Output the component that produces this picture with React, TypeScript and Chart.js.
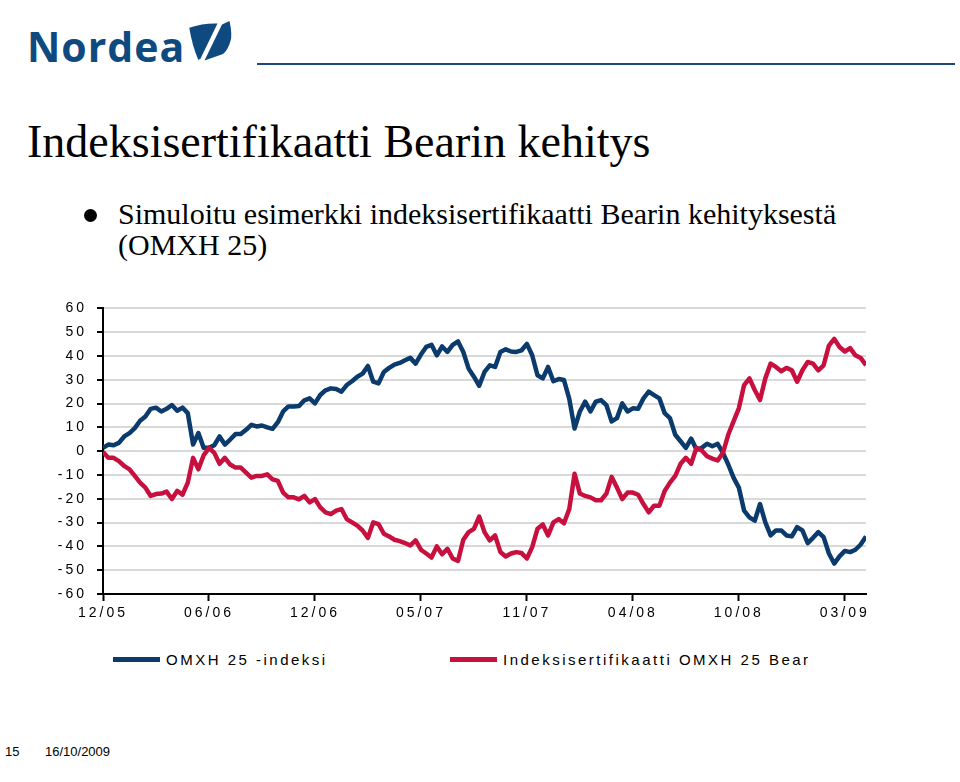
import React, { useEffect, useRef } from 'react';
import { Chart, registerables } from 'chart.js';

Chart.register(...registerables);

// ---- data ----
const tickLabels = ['12/05', '06/06', '12/06', '05/07', '11/07', '04/08', '10/08', '03/09'];
const pointsPerTick = 20;

const seriesNames = ['OMXH 25 -indeksi', 'Indeksisertifikaatti OMXH 25 Bear'];
const seriesColors = ['#0b3a6c', '#c8103f'];

const omxh = [
  1.4, 2.8, 2.5, 3.5, 6.2, 7.6, 9.7, 12.8, 14.6, 17.8,
  18.3, 16.7, 17.8, 19.4, 17, 18.3, 16, 2.8, 7.6, 1.4,
  1.4, 2.5, 6.2, 2.8, 4.9, 7.2, 7.2, 9, 11.1, 10.4,
  10.8, 10, 9.4, 12.2, 16.7, 18.8, 18.8, 19, 21.4, 22.2,
  20.1, 23.6, 25.6, 26.4, 26.1, 25, 27.8, 29.4, 31.3, 32.6,
  35.8, 29.2, 28.5, 33.3, 35, 36.4, 37.1, 38.2, 39.2, 36.8,
  40.6, 43.8, 44.7, 40.3, 44, 41.7, 44.7, 46.1, 41.7, 34.7,
  31.3, 27.5, 33.3, 36.1, 35.4, 41.7, 42.8, 41.9, 41.7, 42.4,
  45.1, 40.3, 31.9, 30.6, 35.4, 29.4, 30.3, 29.9, 22, 9.5,
  16.7, 20.8, 16.7, 20.8, 21.5, 19.4, 12.5, 13.9, 20.1, 16.7,
  18, 17.8, 22.2, 25, 23.6, 22.2, 16, 13.9, 6.9, 4.2,
  1.4, 5.3, 0.7, 1.4, 3.1, 2.1, 3.1, -0.7, -5.6, -11.1,
  -15.3, -25, -27.8, -29.2, -22.2, -29.9, -35.4, -33.3, -33.3, -35.4,
  -35.8, -31.9, -33.3, -38.6, -36.4, -34, -36.1, -43, -47.2, -44.2,
  -41.9, -42.4, -41.4, -39.2, -35.8,
];

const bear = [
  -0.3, -2.8, -2.8, -4.2, -6.2, -7.6, -10.4, -13.2, -15.3, -18.8,
  -18, -17.8, -17, -20.1, -16.7, -18.3, -13.2, -2.8, -7.6, -1.7,
  1.4, -0.7, -5.3, -2.8, -5.6, -6.9, -6.9, -9, -11.1, -10.4,
  -10.4, -9.7, -11.8, -12.5, -17.4, -19.4, -19.4, -20.2, -18.8, -21.5,
  -20.1, -23.6, -25.7, -26.4, -25, -24.3, -28.5, -29.9, -31.3, -33.3,
  -36.4, -29.9, -30.6, -34.7, -35.8, -37.2, -37.8, -38.6, -39.6, -37.5,
  -41.4, -43, -44.7, -40, -43.3, -41, -45.1, -46.1, -37.2, -34,
  -32.6, -27.5, -34, -37.5, -35.4, -42.4, -44.2, -43, -42.4, -42.8,
  -45.1, -40.3, -32.6, -30.8, -35.4, -29.9, -28.5, -30.3, -24.3, -9.5,
  -17.8, -18.8, -19.4, -20.6, -20.6, -17.8, -10.8, -15.3, -20.1, -17.4,
  -17.4, -18.3, -22.2, -25.7, -22.9, -22.9, -16.7, -13.2, -10.4, -5.3,
  -2.8, -5.3, 1.4, 0.3, -2.1, -3.1, -3.9, -0.7, 6.9, 12.5,
  18, 27.8, 30.6, 25.7, 21.5, 30.6, 36.8, 35.4, 33.6, 35,
  34, 29.2, 34, 37.5, 36.8, 34, 36.1, 44.4, 47.2, 43.8,
  41.9, 43.3, 40.3, 39.2, 36.1,
];

const yMin = -60;
const yMax = 60;
const yStep = 10;

const AXIS_FONT = '"Liberation Sans", Arial, sans-serif';

const spacingPlugin = {
  id: 'letterSpacing',
  beforeUpdate(chart: any) {
    (chart.ctx as any).letterSpacing = '3px';
  },
  beforeDraw(chart: any) {
    (chart.ctx as any).letterSpacing = '3px';
  },
};

function LineChart() {
  const ref = useRef<HTMLCanvasElement | null>(null);
  useEffect(() => {
    if (!ref.current) return;
    const chart = new Chart(ref.current, {
      type: 'line',
      data: {
        datasets: [
          {
            label: seriesNames[0],
            data: omxh.map((v, i) => ({ x: i, y: v })),
            borderColor: seriesColors[0],
            backgroundColor: seriesColors[0],
            borderWidth: 4.5,
            pointRadius: 0,
            tension: 0,
            borderJoinStyle: 'round',
            order: 1,
          },
          {
            label: seriesNames[1],
            data: bear.map((v, i) => ({ x: i, y: v })),
            borderColor: seriesColors[1],
            backgroundColor: seriesColors[1],
            borderWidth: 4.5,
            pointRadius: 0,
            tension: 0,
            borderJoinStyle: 'round',
            order: 0,
          },
        ],
      },
      options: {
        responsive: false,
        animation: false,
        events: [],
        layout: { padding: { top: 16, right: 34, left: 0, bottom: 0 } },
        plugins: { legend: { display: false }, tooltip: { enabled: false } },
        scales: {
          x: {
            type: 'linear',
            min: 0,
            max: omxh.length - 1,
            afterBuildTicks: (s: any) => {
              s.ticks = tickLabels.map((_, k) => ({ value: k * pointsPerTick }));
            },
            afterFit: (s: any) => {
              s.height = 41;
            },
            ticks: {
              autoSkip: false,
              maxRotation: 0,
              minRotation: 0,
              padding: 4,
              color: '#000',
              font: { family: AXIS_FONT, size: 14 },
              callback: (v: any) => tickLabels[Math.round(Number(v) / pointsPerTick)] ?? '',
            },
            grid: {
              drawOnChartArea: false,
              drawTicks: true,
              tickLength: 7,
              tickColor: '#000',
              tickWidth: 2,
            },
            border: { color: '#000', width: 2 },
          },
          y: {
            min: yMin,
            max: yMax,
            afterFit: (s: any) => {
              s.width = 103;
            },
            ticks: {
              stepSize: yStep,
              padding: 10,
              color: '#000',
              font: { family: AXIS_FONT, size: 14 },
            },
            grid: {
              color: '#d9d9d9',
              lineWidth: 2,
              tickColor: '#000',
              tickLength: 6,
              tickWidth: 2,
            },
            border: { color: '#000', width: 2 },
          },
        },
      },
      plugins: [spacingPlugin],
    } as any);
    return () => chart.destroy();
  }, []);
  return (
    <canvas
      ref={ref}
      width={900}
      height={345}
      style={{ position: 'absolute', left: 0, top: 290, width: 900, height: 345, display: 'block' }}
    />
  );
}

export default function App() {
  const serif = '"Liberation Serif", "Times New Roman", serif';
  const sans = '"Liberation Sans", Arial, sans-serif';
  const legendText = {
    position: 'absolute' as const,
    top: 651,
    fontFamily: sans,
    fontSize: 15,
    lineHeight: '18px',
    letterSpacing: 2.5,
    whiteSpace: 'nowrap' as const,
    color: '#000',
  };
  return (
    <div
      style={{
        position: 'absolute',
        left: 0,
        top: 0,
        width: 960,
        height: 782,
        overflow: 'hidden',
        background: '#fff',
      }}
    >
      {/* logo */}
      <div
        style={{
          position: 'absolute',
          left: 27,
          top: 21,
          fontFamily: '"Open Sans", sans-serif',
          fontWeight: 700,
          fontSize: 41,
          lineHeight: '50px',
          letterSpacing: 1,
          color: '#0e4a80',
        }}
      >
        Nordea
      </div>
      <svg style={{ position: 'absolute', left: 0, top: 0 }} width={260} height={80}>
        <path d="M189.3,27.7 Q203,23 217.5,23.5 L200.7,58.3 L198.3,60 Q192,45 189.3,27.7 Z" fill="#0e4a80" />
        <path d="M222,24.5 L229.5,21 Q232.5,35 230.5,41 Q228,50 223,54 L204.5,60.5 Z" fill="#0e4a80" />
      </svg>
      <div style={{ position: 'absolute', left: 257, top: 63, width: 698, height: 2, background: '#1d4a7a' }} />

      {/* title */}
      <div
        style={{
          position: 'absolute',
          left: 27,
          top: 119,
          fontFamily: serif,
          fontSize: 46,
          lineHeight: '46px',
          color: '#000',
          whiteSpace: 'nowrap',
        }}
      >
        Indeksisertifikaatti Bearin kehitys
      </div>

      {/* bullet */}
      <div
        style={{
          position: 'absolute',
          left: 84,
          top: 209,
          width: 13,
          height: 13,
          borderRadius: 7,
          background: '#000',
        }}
      />
      <div
        style={{
          position: 'absolute',
          left: 118,
          top: 198,
          fontFamily: serif,
          fontSize: 30,
          lineHeight: '31px',
          color: '#000',
          whiteSpace: 'nowrap',
        }}
      >
        Simuloitu esimerkki indeksisertifikaatti Bearin kehityksestä
        <br />
        (OMXH 25)
      </div>

      <LineChart />

      {/* legend */}
      <div style={{ position: 'absolute', left: 113, top: 657, width: 47, height: 5, background: seriesColors[0] }} />
      <div style={{ ...legendText, left: 166 }}>{seriesNames[0]}</div>
      <div style={{ position: 'absolute', left: 450, top: 657, width: 47, height: 5, background: seriesColors[1] }} />
      <div style={{ ...legendText, left: 503 }}>{seriesNames[1]}</div>

      {/* footer */}
      <div style={{ position: 'absolute', left: 5, top: 744, fontFamily: sans, fontSize: 13, color: '#000' }}>15</div>
      <div style={{ position: 'absolute', left: 45, top: 744, fontFamily: sans, fontSize: 13, color: '#000' }}>
        16/10/2009
      </div>
    </div>
  );
}
